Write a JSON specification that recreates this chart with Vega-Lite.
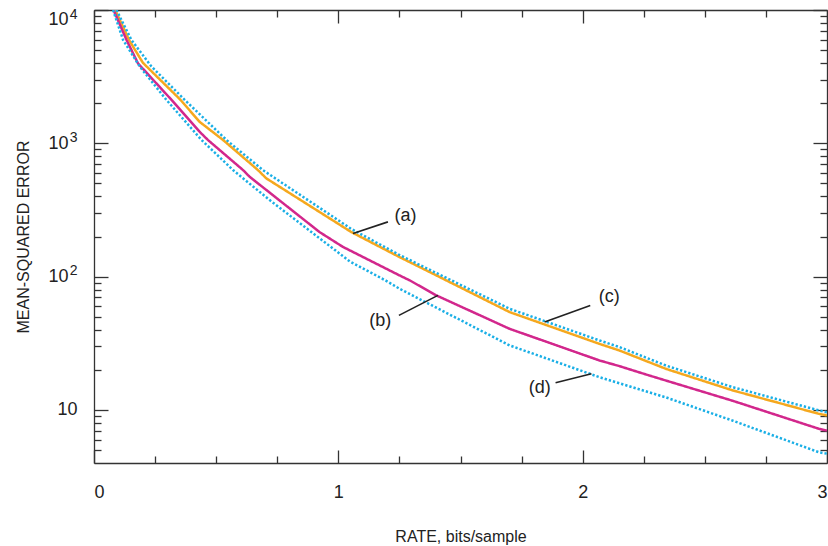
{
  "$schema": "https://vega.github.io/schema/vega-lite/v6.json",
  "width": 733,
  "height": 453,
  "autosize": {"type": "none"},
  "padding": {"left": 94, "top": 10, "right": 1, "bottom": 83},
  "background": "white",
  "config": {
    "view": {"stroke": null},
    "font": "Liberation Sans",
    "axis": {
      "grid": false,
      "domainColor": "#333333",
      "domainWidth": 1.3,
      "tickColor": "#333333",
      "tickWidth": 1.3,
      "labelFont": "Liberation Sans",
      "labelFontSize": 18,
      "labelColor": "#222222",
      "titleFont": "Liberation Sans",
      "titleFontSize": 16,
      "titleFontWeight": "normal",
      "titleColor": "#222222",
      "labelOverlap": false,
      "labelFlush": true
    }
  },
  "datasets": {
    "curves": [
      {"s": "a", "r": 0.087, "mse": 10000},
      {"s": "a", "r": 0.143, "mse": 5970},
      {"s": "a", "r": 0.200, "mse": 4020},
      {"s": "a", "r": 0.354, "mse": 2120},
      {"s": "a", "r": 0.432, "mse": 1450},
      {"s": "a", "r": 0.528, "mse": 1060},
      {"s": "a", "r": 0.671, "mse": 630},
      {"s": "a", "r": 0.705, "mse": 546},
      {"s": "a", "r": 1.053, "mse": 216},
      {"s": "a", "r": 1.251, "mse": 140},
      {"s": "a", "r": 1.333, "mse": 118},
      {"s": "a", "r": 1.701, "mse": 54.2},
      {"s": "a", "r": 2.069, "mse": 31.3},
      {"s": "a", "r": 2.151, "mse": 27.9},
      {"s": "a", "r": 2.342, "mse": 20.3},
      {"s": "a", "r": 2.615, "mse": 14.0},
      {"s": "a", "r": 2.969, "mse": 9.33},
      {"s": "a", "r": 3.0, "mse": 9.1},
      {"s": "b", "r": 0.080, "mse": 10000},
      {"s": "b", "r": 0.133, "mse": 5970},
      {"s": "b", "r": 0.180, "mse": 3980},
      {"s": "b", "r": 0.317, "mse": 2120},
      {"s": "b", "r": 0.432, "mse": 1222},
      {"s": "b", "r": 0.466, "mse": 1060},
      {"s": "b", "r": 0.610, "mse": 630},
      {"s": "b", "r": 0.637, "mse": 561},
      {"s": "b", "r": 0.923, "mse": 216},
      {"s": "b", "r": 1.019, "mse": 167},
      {"s": "b", "r": 1.251, "mse": 102},
      {"s": "b", "r": 1.292, "mse": 93.8},
      {"s": "b", "r": 1.401, "mse": 72.3},
      {"s": "b", "r": 1.701, "mse": 40.6},
      {"s": "b", "r": 2.069, "mse": 23.5},
      {"s": "b", "r": 2.151, "mse": 21.3},
      {"s": "b", "r": 2.274, "mse": 18.1},
      {"s": "b", "r": 2.615, "mse": 11.7},
      {"s": "b", "r": 2.969, "mse": 7.2},
      {"s": "b", "r": 3.0, "mse": 7.0},
      {"s": "c", "r": 0.092, "mse": 10000},
      {"s": "c", "r": 0.153, "mse": 5970},
      {"s": "c", "r": 0.235, "mse": 3770},
      {"s": "c", "r": 0.371, "mse": 2120},
      {"s": "c", "r": 0.542, "mse": 1060},
      {"s": "c", "r": 0.691, "mse": 630},
      {"s": "c", "r": 1.053, "mse": 228},
      {"s": "c", "r": 1.251, "mse": 145},
      {"s": "c", "r": 1.701, "mse": 57.4},
      {"s": "c", "r": 2.069, "mse": 33.2},
      {"s": "c", "r": 2.151, "mse": 29.6},
      {"s": "c", "r": 2.342, "mse": 21.5},
      {"s": "c", "r": 2.615, "mse": 14.8},
      {"s": "c", "r": 2.969, "mse": 9.9},
      {"s": "c", "r": 3.0, "mse": 9.6},
      {"s": "d", "r": 0.078, "mse": 10000},
      {"s": "d", "r": 0.119, "mse": 5970},
      {"s": "d", "r": 0.187, "mse": 3770},
      {"s": "d", "r": 0.296, "mse": 2120},
      {"s": "d", "r": 0.440, "mse": 1060},
      {"s": "d", "r": 0.569, "mse": 630},
      {"s": "d", "r": 0.719, "mse": 375},
      {"s": "d", "r": 1.047, "mse": 130},
      {"s": "d", "r": 1.196, "mse": 93},
      {"s": "d", "r": 1.251, "mse": 81},
      {"s": "d", "r": 1.701, "mse": 30.5},
      {"s": "d", "r": 2.069, "mse": 17.6},
      {"s": "d", "r": 2.342, "mse": 12.4},
      {"s": "d", "r": 2.615, "mse": 8.3},
      {"s": "d", "r": 2.969, "mse": 4.8},
      {"s": "d", "r": 3.0, "mse": 4.7}
    ],
    "leaders": [
      {"r": 1.060, "mse": 210.5, "r2": 1.203, "mse2": 257.5},
      {"r": 1.248, "mse": 51.2, "r2": 1.4075, "mse2": 72.3},
      {"r": 1.844, "mse": 45.6, "r2": 2.031, "mse2": 60.8},
      {"r": 1.889, "mse": 16.0, "r2": 2.036, "mse2": 18.7}
    ],
    "labels": [
      {"t": "(a)", "r": 1.275, "mse": 284},
      {"t": "(b)", "r": 1.172, "mse": 46.1},
      {"t": "(c)", "r": 2.109, "mse": 70.3},
      {"t": "(d)", "r": 1.824, "mse": 14.7}
    ]
  },
  "layer": [
    {
      "data": {"name": "curves"},
      "mark": {"type": "line", "strokeWidth": 2.5, "clip": true, "strokeCap": "butt"},
      "encoding": {
        "x": {
          "field": "r", "type": "quantitative",
          "scale": {"domain": [0, 3], "nice": false, "zero": false},
          "axis": {
            "orient": "bottom",
            "title": "RATE, bits/sample",
            "values": [0, 0.25, 0.5, 0.75, 1, 1.25, 1.5, 1.75, 2, 2.25, 2.5, 2.75, 3],
            "labelExpr": "datum.value % 1 == 0 ? format(datum.value, 'd') : ''",
            "tickSize": {"condition": {"test": "datum.value % 1 == 0", "value": -13}, "value": -7},
            "labelPadding": 33,
            "titlePadding": 21
          }
        },
        "y": {
          "field": "mse", "type": "quantitative",
          "scale": {"type": "log", "domain": [4, 10000], "nice": false},
          "axis": {
            "orient": "left",
            "title": "MEAN-SQUARED ERROR",
            "values": [5, 6, 7, 8, 9, 10, 20, 30, 40, 50, 60, 70, 80, 90, 100, 200, 300, 400, 500, 600, 700, 800, 900, 1000, 2000, 3000, 4000, 5000, 6000, 7000, 8000, 9000, 10000],
            "labelExpr": "datum.value == 10000 || datum.value == 1000 || datum.value == 100 || datum.value == 10 ? '10' : ''",
            "tickSize": {"condition": {"test": "datum.value == 10 || datum.value == 100 || datum.value == 1000 || datum.value == 10000", "value": -14}, "value": -7},
            "labelPadding": {"condition": {"test": "datum.value == 10", "value": 31}, "value": 40},
            "titlePadding": 16
          }
        },
        "color": {
          "field": "s", "type": "nominal",
          "scale": {"domain": ["a", "b", "c", "d"], "range": ["#F5A81E", "#D2278C", "#1AAFE6", "#1AAFE6"]},
          "legend": null
        },
        "strokeDash": {
          "field": "s", "type": "nominal",
          "scale": {"domain": ["a", "b", "c", "d"], "range": [[1, 0], [1, 0], [2.3, 2], [2.3, 2]]},
          "legend": null
        }
      }
    },
    {
      "data": {"name": "leaders"},
      "mark": {"type": "rule", "color": "#222222", "strokeWidth": 1.6},
      "encoding": {
        "x": {
          "field": "r", "type": "quantitative",
          "scale": {"domain": [0, 3], "nice": false, "zero": false},
          "axis": {
            "orient": "top", "title": null, "labels": false,
            "values": [0, 0.25, 0.5, 0.75, 1, 1.25, 1.5, 1.75, 2, 2.25, 2.5, 2.75, 3],
            "tickSize": {"condition": {"test": "datum.value % 1 == 0", "value": -13}, "value": -7}
          }
        },
        "x2": {"field": "r2"},
        "y": {
          "field": "mse", "type": "quantitative",
          "scale": {"type": "log", "domain": [4, 10000], "nice": false},
          "axis": {
            "orient": "right", "title": null, "labels": false,
            "values": [5, 6, 7, 8, 9, 10, 20, 30, 40, 50, 60, 70, 80, 90, 100, 200, 300, 400, 500, 600, 700, 800, 900, 1000, 2000, 3000, 4000, 5000, 6000, 7000, 8000, 9000, 10000],
            "tickSize": {"condition": {"test": "datum.value == 10 || datum.value == 100 || datum.value == 1000 || datum.value == 10000", "value": -14}, "value": -7}
          }
        },
        "y2": {"field": "mse2"}
      }
    },
    {
      "data": {"name": "labels"},
      "mark": {"type": "text", "fontSize": 18, "font": "Liberation Sans", "color": "#222222"},
      "encoding": {
        "x": {"field": "r", "type": "quantitative", "scale": {"domain": [0, 3], "nice": false, "zero": false}, "axis": null},
        "y": {
          "field": "mse", "type": "quantitative",
          "scale": {"type": "log", "domain": [4, 10000], "nice": false},
          "axis": {
            "orient": "left", "title": null, "domain": false, "ticks": false,
            "values": [100, 1000, 10000],
            "labelExpr": "datum.value == 10000 ? '4' : datum.value == 1000 ? '3' : '2'",
            "labelFontSize": 14,
            "labelPadding": 17,
            "labelOffset": {"condition": {"test": "datum.value == 10000", "value": -3}, "value": -6}
          }
        },
        "text": {"field": "t"}
      }
    }
  ],
  "resolve": {"axis": {"x": "independent", "y": "independent"}}
}
